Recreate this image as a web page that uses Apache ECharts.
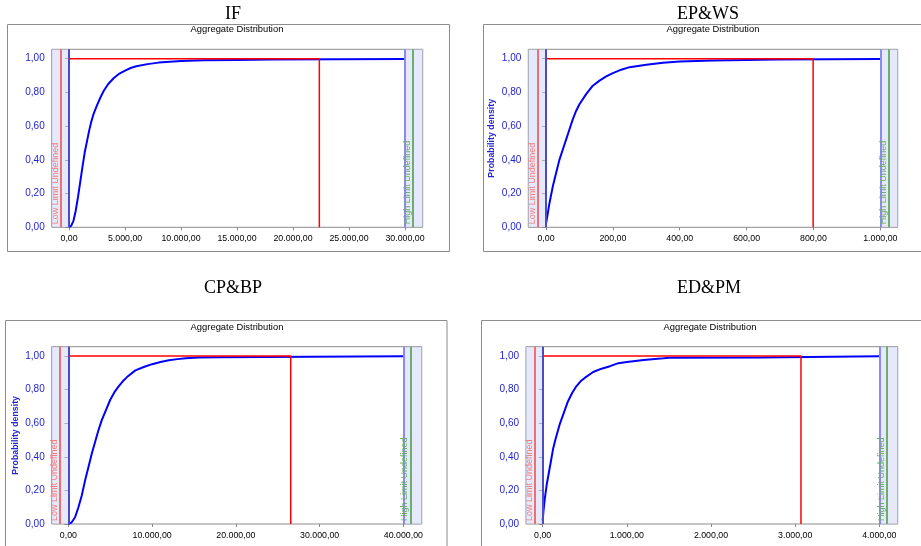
<!DOCTYPE html>
<html>
<head>
<meta charset="utf-8">
<script src="https://cdn.jsdelivr.net/npm/echarts@6/dist/echarts.min.js"></script>
<style>
html,body{margin:0;padding:0;background:#fff;}
#c{width:921px;height:546px;}
</style>
</head>
<body>
<div id="c"></div>
<script>
// ---- data ----
const TITLES = ['IF', 'EP&WS', 'CP&BP', 'ED&PM'];
const SUBTITLE = 'Aggregate Distribution';
const Y_TICKS = [0, 0.2, 0.4, 0.6, 0.8, 1.0];

const IF_TICKS = [0, 5000, 10000, 15000, 20000, 25000, 30000];
const EP_TICKS = [0, 200, 400, 600, 800, 1000];
const CP_TICKS = [0, 10000, 20000, 30000, 40000];
const ED_TICKS = [0, 1000, 2000, 3000, 4000];

const IF_CDF = [[0,0],[200,0.01],[400,0.04],[600,0.10],[800,0.18],[1000,0.27],[1200,0.36],[1400,0.445],[1600,0.51],[1800,0.575],[2000,0.63],[2200,0.675],[2500,0.725],[2800,0.77],[3100,0.81],[3500,0.85],[4000,0.886],[4500,0.912],[5000,0.93],[5500,0.945],[6000,0.955],[7000,0.968],[8000,0.977],[9000,0.982],[10000,0.986],[12000,0.991],[15000,0.993],[18000,0.995],[18100,0.999],[30000,0.999]];
const EP_CDF = [[0,0.02],[5,0.08],[10,0.14],[15,0.19],[20,0.24],[30,0.32],[40,0.40],[50,0.46],[60,0.52],[70,0.58],[80,0.64],[90,0.69],[100,0.73],[120,0.79],[140,0.84],[160,0.87],[180,0.895],[200,0.915],[225,0.935],[250,0.95],[300,0.965],[350,0.976],[400,0.983],[450,0.987],[500,0.99],[600,0.993],[690,0.995],[692,0.999],[1000,0.999]];
const CP_CDF = [[0,0],[400,0.01],[800,0.04],[1200,0.10],[1600,0.17],[2000,0.26],[2400,0.34],[2800,0.42],[3200,0.49],[3600,0.56],[4000,0.62],[4500,0.68],[5000,0.74],[5500,0.785],[6000,0.82],[6500,0.85],[7000,0.875],[8000,0.915],[9000,0.935],[10000,0.952],[11000,0.965],[12000,0.975],[13000,0.982],[14000,0.987],[15500,0.991],[18000,0.993],[23300,0.994],[23400,0.999],[40000,0.999]];
const ED_CDF = [[0,0.02],[10,0.08],[25,0.15],[50,0.24],[75,0.31],[100,0.38],[125,0.45],[150,0.50],[200,0.59],[250,0.66],[300,0.73],[350,0.78],[400,0.82],[450,0.85],[500,0.87],[600,0.905],[700,0.925],[800,0.94],[900,0.958],[1000,0.965],[1200,0.977],[1400,0.985],[1500,0.99],[2590,0.992],[2600,0.999],[4000,0.999]];

const REF_X = [22350, 799, 26550, 3069];          // red reference vertical
const LOW_LIMIT = [-714, -25, -995, -91];          // red "low limit" line
const HIGH_LIMIT = [30684, 1025, 40836, 4087];     // green "high limit" line
const X_MIN = [-1550, -53, -1990, -198];
const X_MAX = [31580, 1052, 42190, 4218];
const SHOW_YNAME = [false, true, true, false];

// ---- layout ----
const GRIDS = [
  {left: 51.7, top: 49.3, width: 371, height: 178},
  {left: 528.3, top: 49.3, width: 369.4, height: 178},
  {left: 51.7, top: 346.7, width: 370, height: 177.3},
  {left: 526, top: 346.7, width: 371.7, height: 177.3}
];
const BOXES = [
  {x: 7.5, y: 24.5, w: 442, h: 227},
  {x: 483.5, y: 24.5, w: 450, h: 227},
  {x: 5.5, y: 320.5, w: 441.5, h: 240},
  {x: 481.5, y: 320.5, w: 450, h: 240}
];
const TITLE_POS = [[233, 14], [708, 14], [233, 288], [709, 288]];
const SUB_POS = [[237, 29], [713, 29], [237, 327], [710, 327]];

const TICKS = [IF_TICKS, EP_TICKS, CP_TICKS, ED_TICKS];
const CDFS = [IF_CDF, EP_CDF, CP_CDF, ED_CDF];

function eu(v) {
  const s = Math.abs(v).toFixed(2);
  const parts = s.split('.');
  return (v < 0 ? '-' : '') + parts[0].replace(/\B(?=(\d{3})+(?!\d))/g, '.') + ',' + parts[1];
}

const FONT = 'Liberation Sans, Arial, sans-serif';
const grid = [], xAxis = [], yAxis = [], series = [], graphic = [];

for (let i = 0; i < 4; i++) {
  const g = GRIDS[i];
  grid.push({left: g.left, top: g.top, width: g.width, height: g.height,
    show: true, borderColor: '#8c8c8c', borderWidth: 1, backgroundColor: '#fff', containLabel: false});
  const top = TICKS[i][TICKS[i].length - 1];
  xAxis.push({
    type: 'value', gridIndex: i, min: X_MIN[i], max: X_MAX[i],
    axisLine: {show: false},
    splitLine: {show: false},
    axisTick: {show: true, length: 3, lineStyle: {color: '#888'}, customValues: TICKS[i]},
    axisLabel: {show: true, customValues: TICKS[i], formatter: eu, color: '#000',
      fontFamily: FONT, fontSize: 8.8, margin: 7}
  });
  yAxis.push({
    type: 'value', gridIndex: i, min: 0, max: 1.056,
    axisLine: {show: false},
    splitLine: {show: false},
    axisTick: {show: true, length: 4, lineStyle: {color: '#888'}, customValues: Y_TICKS},
    axisLabel: {show: true, customValues: Y_TICKS, formatter: v => eu(v), color: '#2424d0',
      fontFamily: FONT, fontSize: 10, margin: 7},
    name: SHOW_YNAME[i] ? 'Probability density' : '',
    nameLocation: 'middle', nameGap: 32,
    nameTextStyle: {color: '#2424d0', fontFamily: FONT, fontSize: 8.8, fontWeight: 'bold'}
  });

  // shaded bands + limit lines
  series.push({
    type: 'line', xAxisIndex: i, yAxisIndex: i, data: [], silent: true, z: 1,
    markArea: {
      silent: true,
      itemStyle: {color: 'rgba(205,212,248,0.5)'},
      data: [
        [{xAxis: X_MIN[i]}, {xAxis: 0}],
        [{xAxis: top}, {xAxis: X_MAX[i]}]
      ]
    },
    markLine: {
      silent: true, symbol: 'none', animation: false,
      data: [
        {xAxis: 0, lineStyle: {color: '#4b4bc6', width: 2, type: 'solid'}, label: {show: false}},
        {xAxis: LOW_LIMIT[i], lineStyle: {color: '#f07070', width: 2, type: 'solid'},
          label: {show: true, formatter: 'Low Limit Undefined', position: 'insideStartTop',
            color: '#f08080', fontFamily: FONT, fontSize: 9, distance: [3, 1]}},
        {xAxis: top, lineStyle: {color: '#8a8af0', width: 2, type: 'solid'}, label: {show: false}},
        {xAxis: HIGH_LIMIT[i], lineStyle: {color: '#6cae6c', width: 2, type: 'solid'},
          label: {show: true, formatter: 'High Limit Undefined', position: 'insideStartTop',
            color: '#6cae6c', fontFamily: FONT, fontSize: 9, distance: [3, 1]}}
      ]
    }
  });
  // CDF curve
  series.push({
    type: 'line', xAxisIndex: i, yAxisIndex: i, data: CDFS[i],
    showSymbol: false, smooth: false, z: 3,
    lineStyle: {color: '#0000ff', width: 2}
  });
  // red reference lines
  series.push({
    type: 'line', xAxisIndex: i, yAxisIndex: i,
    data: [[0, 1], [REF_X[i], 1], [REF_X[i], 0]],
    showSymbol: false, z: 4,
    lineStyle: {color: '#ff0000', width: 1.5}
  });

  const b = BOXES[i];
  graphic.push({type: 'rect', shape: {x: b.x, y: b.y, width: b.w, height: b.h},
    style: {fill: 'none', stroke: '#8c8c8c', lineWidth: 1}, z: -1});
  graphic.push({type: 'text', x: TITLE_POS[i][0], y: TITLE_POS[i][1],
    style: {text: TITLES[i], font: '18px "Liberation Serif", "Times New Roman", serif',
      fill: '#000', align: 'center', verticalAlign: 'middle'}});
  graphic.push({type: 'text', x: SUB_POS[i][0], y: SUB_POS[i][1],
    style: {text: SUBTITLE, font: '9.4px ' + FONT, fill: '#000', align: 'center', verticalAlign: 'middle'}});
}

const chart = echarts.init(document.getElementById('c'), null, {renderer: 'canvas'});
chart.setOption({
  animation: false,
  backgroundColor: '#fff',
  grid, xAxis, yAxis, series, graphic
});
</script>
</body>
</html>
